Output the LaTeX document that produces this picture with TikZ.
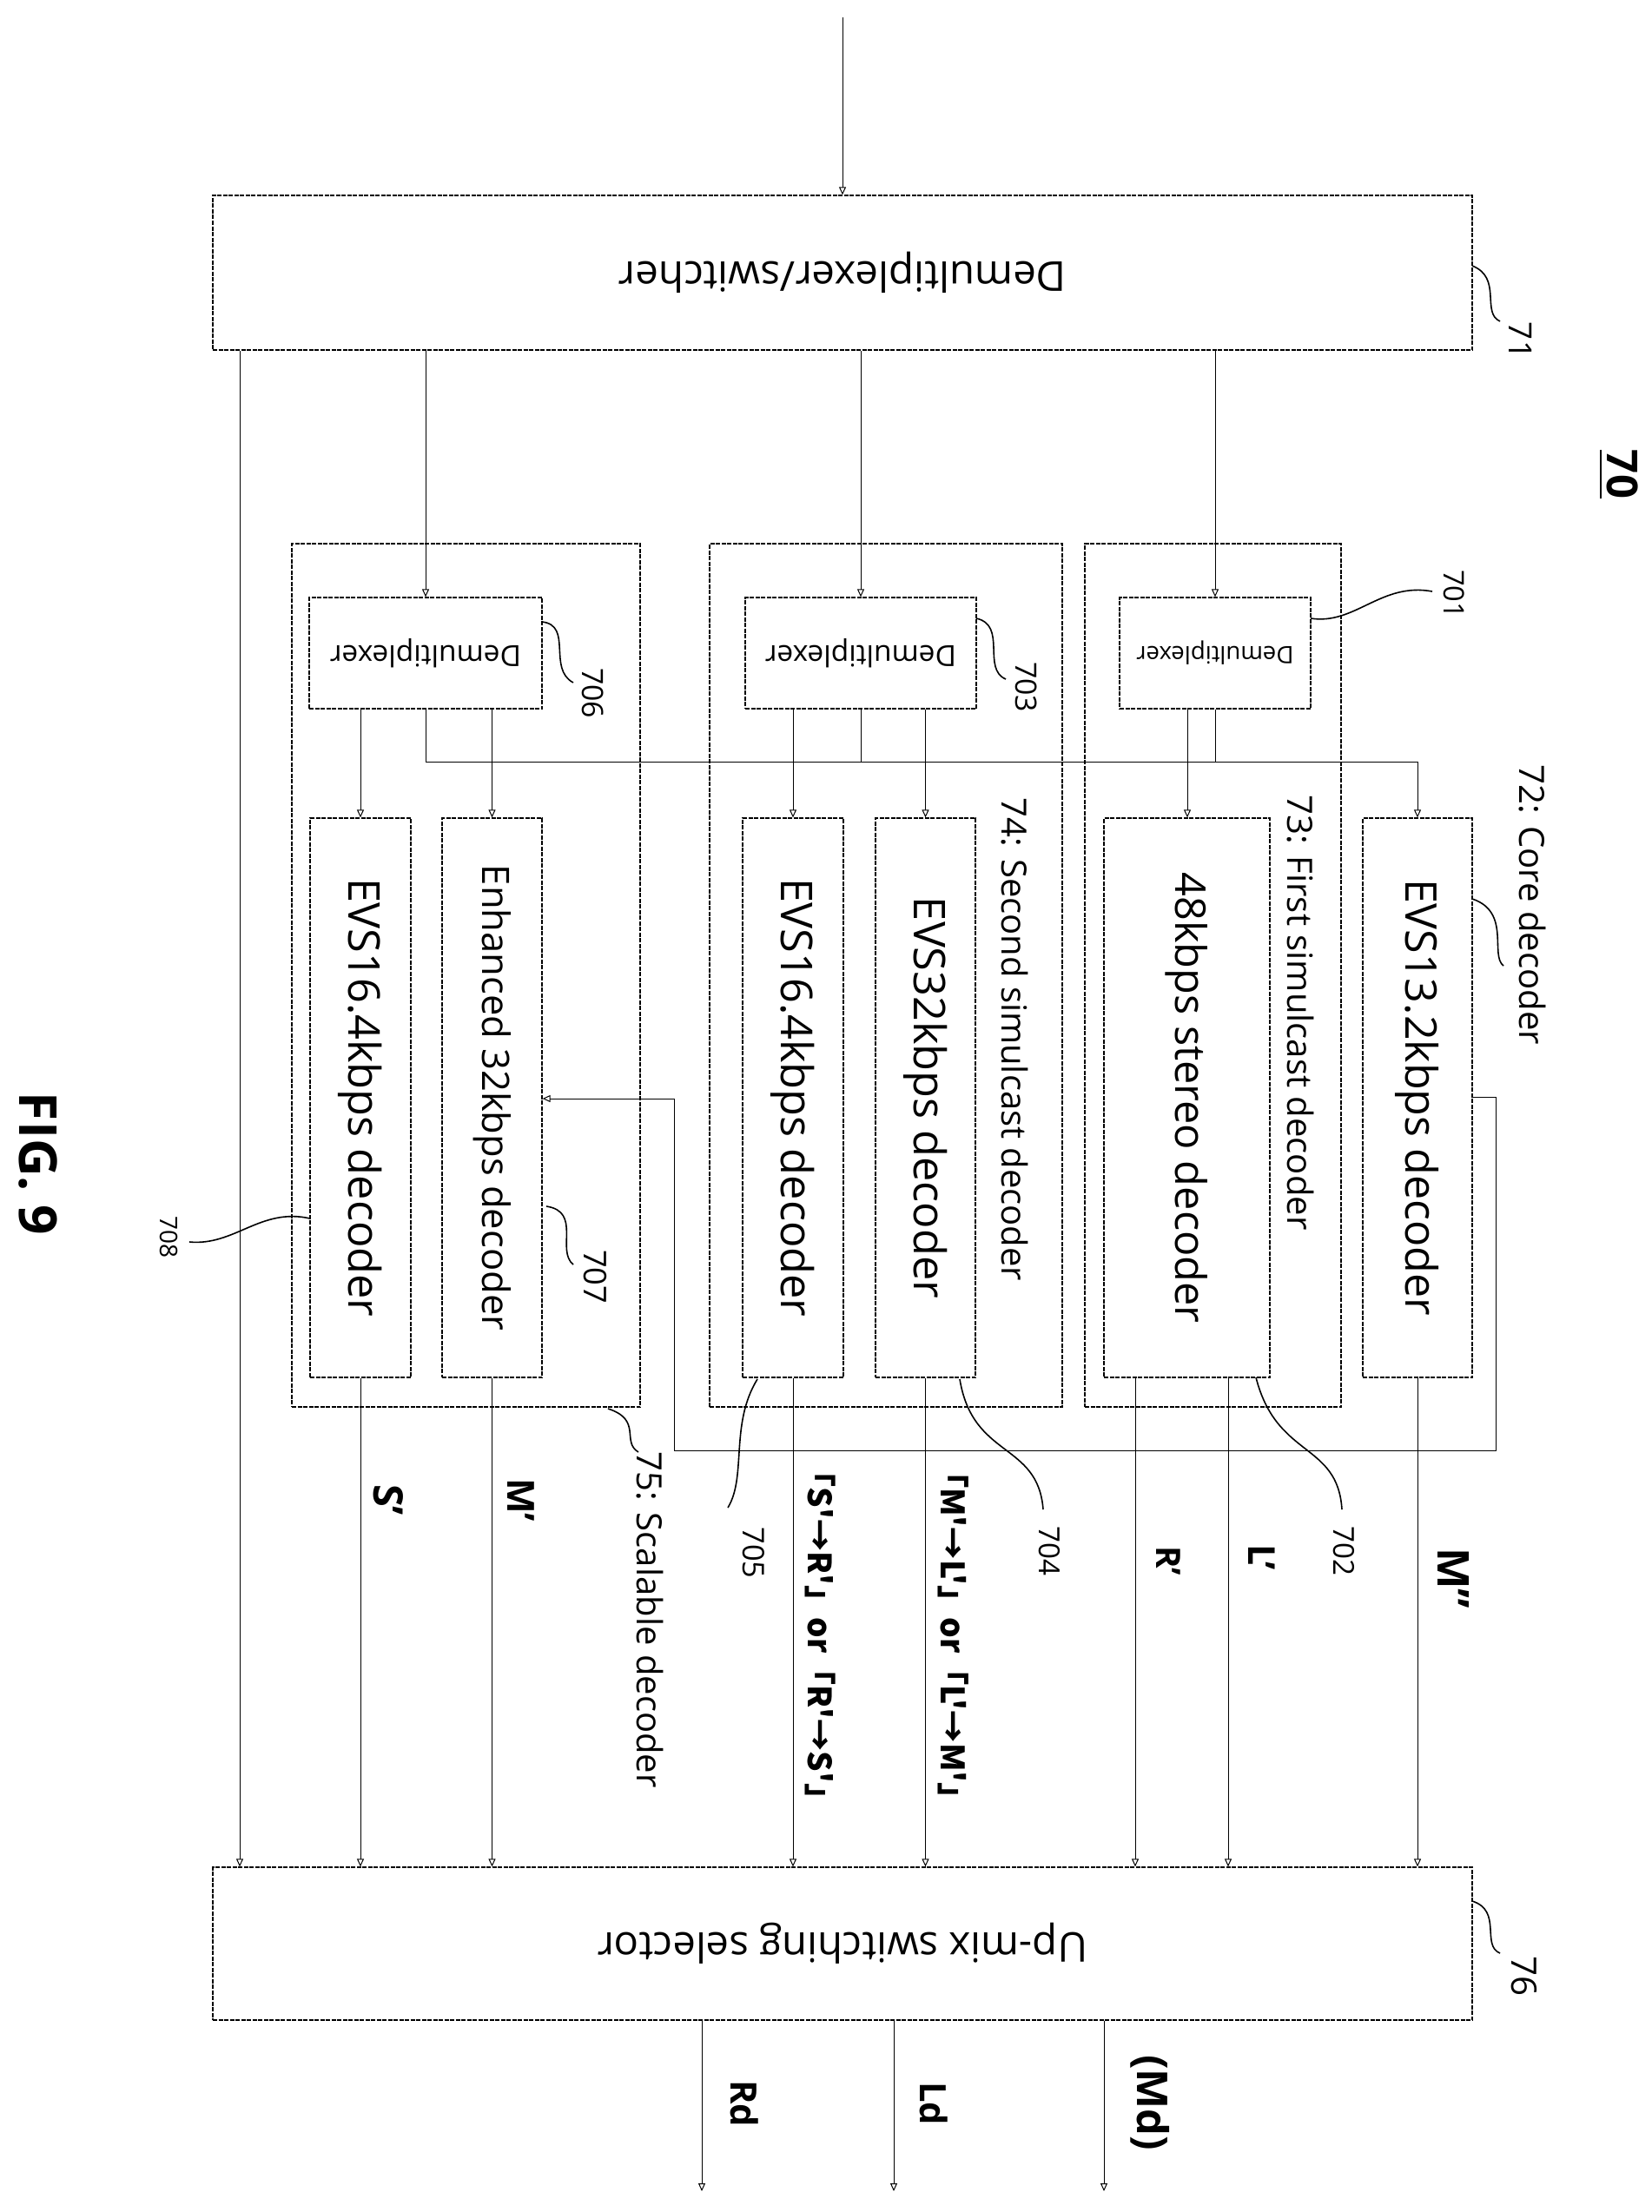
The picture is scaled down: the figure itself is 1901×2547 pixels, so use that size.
\documentclass[tikz,border=0pt]{standalone}
\usepackage{fontspec}
\setmainfont{Open Sans}
\newfontfamily\cjk{Noto Sans CJK JP}
\usetikzlibrary{arrows.meta}
\newcommand\fw[2]{\resizebox{#1pt}{!}{#2}}
\begin{document}
\begin{tikzpicture}[x=1pt,y=-1pt,
  box/.style={draw,line width=1.3pt,dash pattern=on 5pt off 1.5pt,inner sep=0pt,anchor=center},
  ln/.style={line width=1pt},
  arr/.style={line width=1pt,-{Triangle[open,length=9pt,width=8pt]}},
  lead/.style={line width=1.6pt},
  lab/.style={inner sep=0pt,rotate=-90},
  flip/.style={inner sep=0pt,rotate=180}]
\useasboundingbox (0,0) rectangle (1901,2547);
% main boxes
\node[box,minimum width=1450pt,minimum height=178pt] (d71) at (970,314) {};
\node[flip] (t71) at (970,314) {\fw{515}{Demultiplexer/switcher}};
\node[box,minimum width=1450pt,minimum height=176pt] (u76) at (970,2238) {};
\node[flip] (t76) at (970,2238) {\fw{564}{Up-mix switching selector}};
% group boxes
\node[box,minimum width=401pt,minimum height=994pt] (g75) at (536.5,1123) {};
\node[box,minimum width=406pt,minimum height=994pt] (g74) at (1020,1123) {};
\node[box,minimum width=295pt,minimum height=994pt] (g73) at (1396.5,1123) {};
% demux
\node[box,minimum width=268pt,minimum height=128pt] (dm706) at (490,752) {};
\node[flip] at (490,752) {\fw{220}{Demultiplexer}};
\node[box,minimum width=266pt,minimum height=128pt] (dm703) at (991,752) {};
\node[flip] at (991,752) {\fw{220}{Demultiplexer}};
\node[box,minimum width=220pt,minimum height=128pt] (dm701) at (1399,752) {};
\node[flip] at (1399,752) {\fw{181}{Demultiplexer}};
% decoders
\node[box,minimum width=116pt,minimum height=644pt] (e708) at (415,1264) {};
\node[lab] at (415,1264) {\fw{505}{EVS16.4kbps decoder}};
\node[box,minimum width=115pt,minimum height=644pt] (e707) at (566.5,1264) {};
\node[lab] at (566.5,1264) {\fw{536}{Enhanced 32kbps decoder}};
\node[box,minimum width=116pt,minimum height=644pt] (e705) at (913,1264) {};
\node[lab] at (913,1264) {\fw{505}{EVS16.4kbps decoder}};
\node[box,minimum width=115pt,minimum height=644pt] (e704) at (1065.5,1264) {};
\node[lab] at (1065.5,1264) {\fw{462}{EVS32kbps decoder}};
\node[box,minimum width=191pt,minimum height=644pt] (e702) at (1366.5,1264) {};
\node[lab] at (1366.5,1264) {\fw{519}{48kbps stereo decoder}};
\node[box,minimum width=126pt,minimum height=644pt] (e72) at (1632,1264) {};
\node[lab] at (1632,1264) {\fw{502}{EVS13.2kbps decoder}};
% coordinates
\coordinate (in) at (970,20);
\coordinate (xL) at (276,0);
\coordinate (bus) at (0,877);
\coordinate (x702a) at (1307,0);
\coordinate (x702b) at (1414,0);
\coordinate (x701) at (1367,0);
\coordinate (fbA) at (1722,1263);
\coordinate (fbB) at (1722,1670);
\coordinate (fbC) at (776,1670);
\coordinate (fbD) at (776,1265);
\coordinate (oR) at (808,2523);
\coordinate (oL) at (1029,2523);
\coordinate (oM) at (1271,2523);
% connectors
\draw[arr] (in) -- (d71.north);
\draw[arr] (d71.south -| xL) -- (u76.north -| xL);
\draw[arr] (d71.south -| dm706.north) -- (dm706.north);
\draw[arr] (d71.south -| dm703.north) -- (dm703.north);
\draw[arr] (d71.south -| dm701.north) -- (dm701.north);
\draw[arr] (dm706.south -| e708.north) -- (e708.north);
\draw[arr] (dm706.south -| e707.north) -- (e707.north);
\draw[arr] (dm703.south -| e705.north) -- (e705.north);
\draw[arr] (dm703.south -| e704.north) -- (e704.north);
\draw[arr] (dm701.south -| x701) -- (e702.north -| x701);
\draw[arr] (dm706.south) -- (dm706.south |- bus) -- (e72.north |- bus) -- (e72.north);
\draw[ln] (dm703.south) -- (dm703.south |- bus);
\draw[ln] (dm701.south) -- (dm701.south |- bus);
\draw[arr] (e72.east |- fbA) -- (fbA) -- (fbB) -- (fbC) -- (fbD) -- (e707.east |- fbD);
\draw[arr] (e708.south) -- (u76.north -| e708.south);
\draw[arr] (e707.south) -- (u76.north -| e707.south);
\draw[arr] (e705.south) -- (u76.north -| e705.south);
\draw[arr] (e704.south) -- (u76.north -| e704.south);
\draw[arr] (e702.south -| x702a) -- (u76.north -| x702a);
\draw[arr] (e702.south -| x702b) -- (u76.north -| x702b);
\draw[arr] (e72.south) -- (u76.north -| e72.south);
\draw[arr] (u76.south -| oR) -- (oR);
\draw[arr] (u76.south -| oL) -- (oL);
\draw[arr] (u76.south -| oM) -- (oM);
% signal labels
\node[lab] at (447,1727) {\fw{36}{\bfseries S'}};
\node[lab] at (600,1727) {\fw{50}{\bfseries M'}};
\node[lab] at (1345,1797) {\fw{34}{\bfseries R'}};
\node[lab] at (1453,1793) {\fw{30}{\bfseries L'}};
\node[lab] at (1673,1817) {\fw{70}{\bfseries M''}};
\node[lab] at (945,1883) {\fw{414}{\cjk\bfseries 「S'→R'」or「R'→S'」}};
\node[lab] at (1098,1883) {\fw{414}{\cjk\bfseries 「M'→L'」or「L'→M'」}};
\node[lab] at (857,2422) {\fw{54}{\bfseries Rd}};
\node[lab] at (1075,2422) {\fw{50}{\bfseries Ld}};
\node[lab] at (1324,2421) {\fw{110}{\bfseries (Md)}};
% group labels
\node[lab] at (1764,1042) {\fw{322}{72: Core decoder}};
\node[lab] at (1497,1166) {\fw{501}{73: First simulcast decoder}};
\node[lab] at (1168,1197) {\fw{556}{74: Second simulcast decoder}};
\node[lab] at (748,1865) {\fw{387}{75: Scalable decoder}};
% reference numerals with leaders
\node[lab] at (868,1788) {\fw{59}{705}};
\draw[lead] (872,1588) .. controls (840,1640) and (860,1700) .. (838,1736);
\node[lab] at (1208,1786) {\fw{57}{704}};
\draw[lead] (1105,1588) .. controls (1120,1680) and (1195,1660) .. (1201,1738);
\node[lab] at (1547,1786) {\fw{57}{702}};
\draw[lead] (1446,1586) .. controls (1470,1680) and (1540,1660) .. (1545,1738);
\node[lab] at (683,798) {\fw{58}{706}};
\draw[lead] (624,716) .. controls (660,720) and (630,770) .. (660,786);
\node[lab] at (1182,791) {\fw{58}{703}};
\draw[lead] (1124,712) .. controls (1160,720) and (1130,770) .. (1158,782);
\node[lab] at (1674,684) {\fw{56}{701}};
\draw[lead] (1509,712) .. controls (1560,720) and (1590,670) .. (1649,681);
\node[lab] at (685,1470) {\fw{62}{707}};
\draw[lead] (629,1389) .. controls (670,1395) and (640,1440) .. (660,1456);
\node[lab] at (195,1424) {\fw{48}{708}};
\draw[lead] (357,1403) .. controls (300,1390) and (270,1435) .. (218,1430);
\node[lab] at (1751,392) {\fw{42}{71}};
\draw[lead] (1695,306) .. controls (1730,320) and (1705,360) .. (1727,370);
\node[lab] at (1755,2275) {\fw{46}{76}};
\draw[lead] (1695,2189) .. controls (1730,2200) and (1705,2240) .. (1727,2249);
\draw[lead] (1695,1035) .. controls (1740,1050) and (1715,1100) .. (1731,1112);
\draw[lead] (700,1622) .. controls (740,1635) and (715,1660) .. (735,1672);
\node[lab] at (1863,546) {\fw{56}{\bfseries\underline{70}}};
\node[lab] at (44,1340) {\fw{164}{\bfseries FIG. 9}};
\end{tikzpicture}
\end{document}
